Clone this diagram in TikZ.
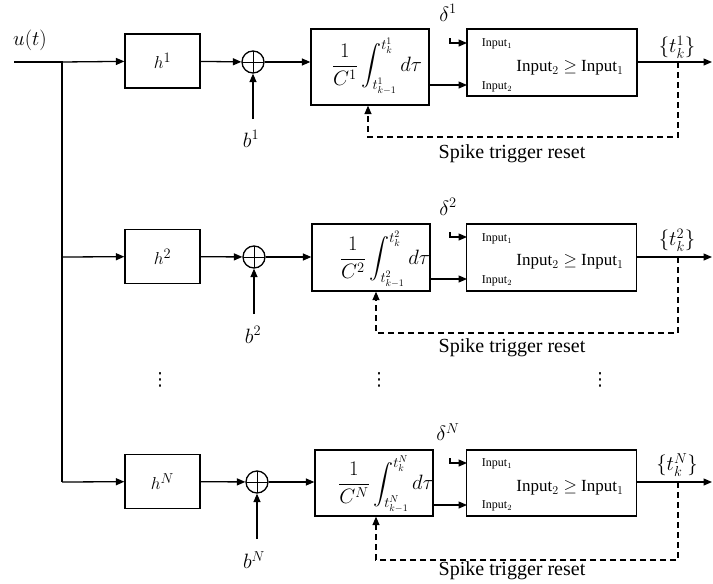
\documentclass[tikz,border=0pt]{standalone}
\usepackage{amsmath,amssymb}
\usepackage{fontspec}
\setmainfont{Liberation Serif}
\newfontfamily\symfont{DejaVu Sans}
\usetikzlibrary{arrows.meta,positioning,calc}
\tikzset{
  >={Triangle[length=8.5pt,width=7pt]},
  % blocks
  hblk/.style={draw,line width=1.3pt,minimum width=75pt,minimum height=54pt,inner sep=0pt,
               font=\fontsize{19}{22}\selectfont},
  iblk/.style={draw,line width=1.3pt,minimum width=118pt,inner sep=0pt},
  itxt/.style={font=\fontsize{20}{23}\selectfont,inner sep=0pt},
  cblk/.style={draw,line width=1.3pt,minimum width=170pt,inner sep=0pt},
  sumc/.style={circle,draw,line width=1.3pt,minimum size=22pt,inner sep=0pt,
               path picture={\draw[line width=1pt]
                 (path picture bounding box.north) -- (path picture bounding box.south)
                 (path picture bounding box.west) -- (path picture bounding box.east);}},
  sig/.style={->,line width=1.3pt},
  rst/.style={->,line width=1.3pt,dash pattern=on 6pt off 4pt},
  lbl/.style={font=\fontsize{20}{23}\selectfont,inner sep=0pt},
  rstlbl/.style={font=\fontsize{20}{23}\selectfont,inner sep=0pt},
  tinylbl/.style={font=\fontsize{12}{14}\selectfont,inner sep=0pt},
  cmptxt/.style={font=\fontsize{17}{20}\selectfont,inner sep=0pt},
  vdot/.style={font=\symfont\fontsize{18}{20}\selectfont,inner sep=0pt},
}
\newcommand{\integ}[1]{$\dfrac{1}{C^{#1}}\displaystyle\int_{t^{#1}_{k-1}}^{t^{#1}_k} d\tau$}
\begin{document}
\begin{tikzpicture}[x=1pt,y=-1pt]
  \useasboundingbox (0,0) rectangle (713,584);
  % input
  \node[lbl,font=\fontsize{21}{24}\selectfont] (u) at (30,40) {$u(t)$};
  \coordinate (in) at (14,62);
  \coordinate (br1) at (62,62);
  \coordinate (br2) at (62,257);
  \coordinate (brN) at (62,482);
  \draw[line width=1.3pt] (in) -- (br1) -- (brN);

  % ---- branch 1
  \node[hblk] (h1) at (162.5,61) {$h^1$};
  \node[sumc] (s1) at (253,62) {};
  \node[iblk,minimum height=76pt] (i1) at (370,67) {};
  \node[itxt] (i1t) at (377,66) {\integ{1}};
  \node[cblk,minimum height=67pt] (c1) at (552,62.5) {};
  \node[cmptxt] at (570,68) {Input$_2 \geq$ Input$_1$};
  \node[tinylbl] at (497,44) {Input$_1$};
  \node[tinylbl] at (497,87) {Input$_2$};
  \node[lbl] (b1) at (251,139) {$b^1$};
  \coordinate (bb1) at (253,119);
  \node[lbl] (dl1) at (448,13) {$\delta^1$};
  \coordinate (k1) at (450,38);
  \coordinate (c1a) at (467,43);
  \coordinate (c1b) at (467,85);
  \node[lbl] (o1l) at (677,47) {$\{t^1_k\}$};
  \coordinate (t1) at (678,62);
  \coordinate (o1) at (712,62);
  \coordinate (d1) at (678,137);
  \node[rstlbl] (rs1) at (512,154) {Spike trigger reset};
  \draw[sig] (br1) -- (h1);
  \draw[sig] (h1) -- (s1);
  \draw[sig] (bb1) -- (s1);
  \draw[sig] (s1) -- (s1 -| i1.west);
  \draw[sig] (i1.east |- c1b) -- (c1b);
  \draw[sig] (k1) |- (c1a);
  \draw[sig] (c1.east |- o1) -- (o1);
  \draw[rst] (t1) -- (d1) -| ([xshift=-2pt]i1.south);

  % ---- branch 2
  \node[hblk] (h2) at (162.5,256.5) {$h^2$};
  \node[sumc] (s2) at (254,257) {};
  \node[iblk,minimum height=67pt] (i2) at (371,257.5) {};
  \node[itxt] (i2t) at (385,259) {\integ{2}};
  \node[cblk,minimum height=67pt] (c2) at (551.5,257.5) {};
  \node[cmptxt] at (570,262) {Input$_2 \geq$ Input$_1$};
  \node[tinylbl] at (497,239) {Input$_1$};
  \node[tinylbl] at (497,281) {Input$_2$};
  \node[lbl] (b2) at (253,335) {$b^2$};
  \coordinate (bb2) at (254,314);
  \node[lbl] (dl2) at (448,207) {$\delta^2$};
  \coordinate (k2) at (450,232);
  \coordinate (c2a) at (467,237);
  \coordinate (c2b) at (467,279);
  \node[lbl] (o2l) at (677,240) {$\{t^2_k\}$};
  \coordinate (t2) at (678,257);
  \coordinate (o2) at (712,257);
  \coordinate (d2) at (678,333);
  \node[rstlbl] (rs2) at (512,348) {Spike trigger reset};
  \draw[sig] (br2) -- (h2);
  \draw[sig] (h2) -- (s2);
  \draw[sig] (bb2) -- (s2);
  \draw[sig] (s2) -- (s2 -| i2.west);
  \draw[sig] (i2.east |- c2b) -- (c2b);
  \draw[sig] (k2) |- (c2a);
  \draw[sig] (c2.east |- o2) -- (o2);
  \draw[rst] (t2) -- (d2) -| ([xshift=5pt]i2.south);

  % dots
  \node[vdot] (v1) at (160,380) {⋮};
  \node[vdot] (v2) at (379,380) {⋮};
  \node[vdot] (v3) at (600,380) {⋮};

  % ---- branch N
  \node[hblk] (hN) at (162.5,481.5) {$h^N$};
  \node[sumc] (sN) at (257,482) {};
  \node[iblk,minimum height=66pt] (iN) at (374,483) {};
  \node[itxt] (iNt) at (386,484) {\integ{N}};
  \node[cblk,minimum height=66pt] (cN) at (551.5,483) {};
  \node[cmptxt] at (570,488) {Input$_2 \geq$ Input$_1$};
  \node[tinylbl] at (497,464) {Input$_1$};
  \node[tinylbl] at (497,506) {Input$_2$};
  \node[lbl] (bN) at (254,560) {$b^N$};
  \coordinate (bbN) at (257,539);
  \node[lbl] (dlN) at (448,432) {$\delta^N$};
  \coordinate (kN) at (450,458);
  \coordinate (cNa) at (467,463);
  \coordinate (cNb) at (467,505);
  \node[lbl] (oNl) at (677,465) {$\{t^N_k\}$};
  \coordinate (tN) at (678,482);
  \coordinate (oN) at (712,482);
  \coordinate (dN) at (678,560);
  \node[rstlbl] (rsN) at (512,571) {Spike trigger reset};
  \draw[sig] (brN) -- (hN);
  \draw[sig] (hN) -- (sN);
  \draw[sig] (bbN) -- (sN);
  \draw[sig] (sN) -- (sN -| iN.west);
  \draw[sig] (iN.east |- cNb) -- (cNb);
  \draw[sig] (kN) |- (cNa);
  \draw[sig] (cN.east |- oN) -- (oN);
  \draw[rst] (tN) -- (dN) -| ([xshift=2pt]iN.south);
\end{tikzpicture}
\end{document}
